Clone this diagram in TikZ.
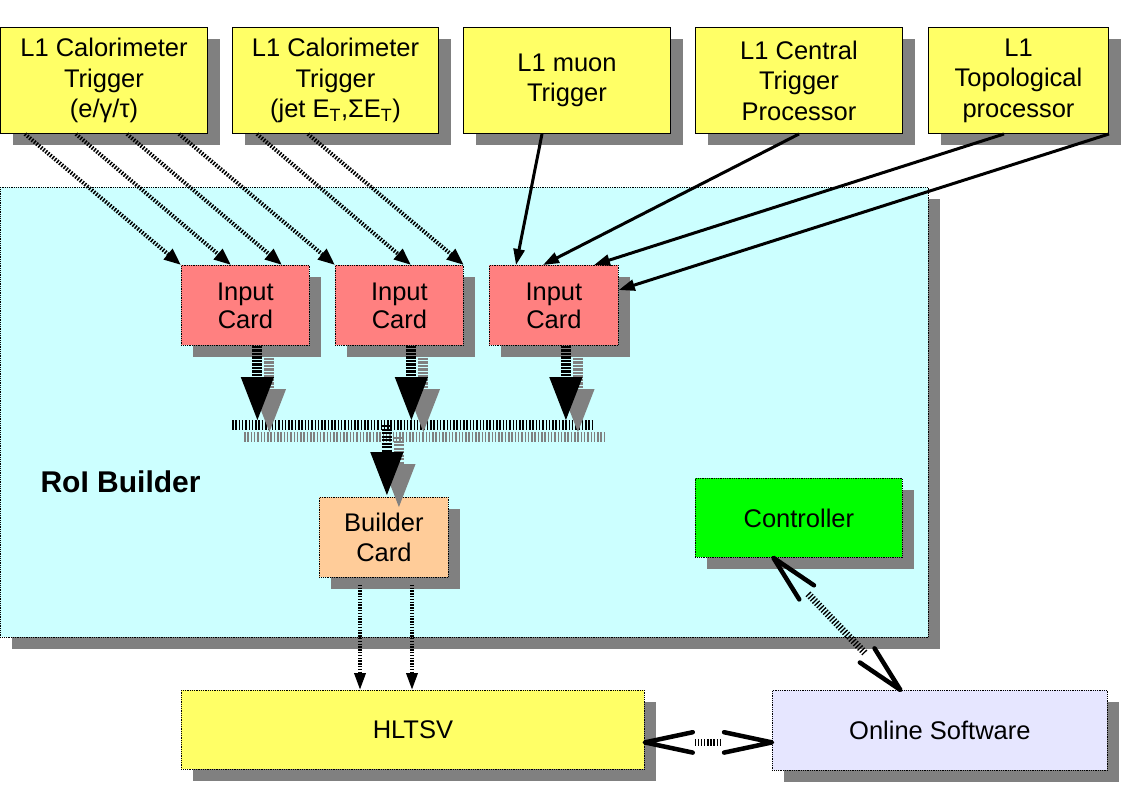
\documentclass[tikz,border=0pt]{standalone}
\usepackage{fontspec}
\setmainfont{Liberation Sans}
\usetikzlibrary{arrows.meta,shadows,calc}
\definecolor{yel}{HTML}{FFFF66}
\definecolor{cyanbg}{HTML}{CCFFFF}
\definecolor{cardred}{HTML}{FF8080}
\definecolor{bldorange}{HTML}{FFCC99}
\definecolor{ctrlgreen}{HTML}{00FF00}
\definecolor{onlinebg}{HTML}{E6E6FF}
\definecolor{shadowgray}{HTML}{808080}
\begin{document}
\begin{tikzpicture}[x=1pt,y=-1pt,
  shad/.style={drop shadow={shadow xshift=12pt,shadow yshift=-12pt,fill=shadowgray,opacity=1,draw=none}},
  topbox/.style={shad,draw=black,line width=1pt,fill=yel,inner sep=0pt,anchor=north west,
    minimum height=106pt,align=center,font=\fontsize{25.5}{30.5}\selectfont},
  card/.style={shad,draw=black,densely dotted,line width=0.8pt,inner sep=0pt,anchor=north west,
    align=center,font=\fontsize{25.5}{28}\selectfont},
  dotarr/.style={line width=4pt,dash pattern=on 1.5pt off 1.5pt,
    -{Triangle[length=17pt,width=13pt]}},
  dotarrb/.style={line width=3.5pt,dash pattern=on 1.4pt off 1.4pt,
    -{Triangle[length=17pt,width=11pt]}},
  solarr/.style={line width=3pt,-{Triangle[length=16pt,width=11pt]}},
  bigarr/.style={line width=10pt,dash pattern=on 2.2pt off 1.3pt,
    -{Triangle[length=45pt,width=30pt]}},
  busline/.style={line width=10pt,dash pattern=on 1.5pt off 1.8pt},
  openhead/.style={line width=4.5pt,line cap=round,line join=round},
  headshaft/.style={line width=7pt,dash pattern=on 1.3pt off 1.8pt},
]
\useasboundingbox (0,0) rectangle (1123,794);

% RoI Builder region
\node[card,fill=cyanbg,minimum width=928pt,minimum height=450pt] (roi) at (0,187) {};
\node[anchor=base west,font=\fontsize{30}{36}\selectfont\bfseries] (roilabel) at (37,492) {RoI Builder};

% top boxes
\node[topbox,minimum width=207pt] (t1) at (0,27) {L1 Calorimeter\\Trigger\\(e/γ/τ)};
\node[topbox,minimum width=206pt] (t2) at (232,27) {L1 Calorimeter\\Trigger\\(jet E\textsubscript{T},ΣE\textsubscript{T})};
\node[topbox,minimum width=207pt] (t3) at (463,27) {L1 muon\\Trigger};
\node[topbox,minimum width=207pt] (t4) at (695,27) {L1 Central\\Trigger\\Processor};
\node[topbox,minimum width=180pt] (t5) at (928,27) {L1\\Topological\\processor};

% cards
\node[card,fill=cardred,minimum width=128pt,minimum height=80pt] (ic1) at (181,265) {Input\\Card};
\node[card,fill=cardred,minimum width=128pt,minimum height=80pt] (ic2) at (335,265) {Input\\Card};
\node[card,fill=cardred,minimum width=129pt,minimum height=80pt] (ic3) at (489,265) {Input\\Card};
\node[card,fill=bldorange,minimum width=129pt,minimum height=80pt,font=\fontsize{25.5}{30}\selectfont] (bld) at (319,497) {Builder\\Card};
\node[card,fill=ctrlgreen,minimum width=207pt,minimum height=79pt] (ctrl) at (695,478) {Controller};
\node[card,fill=yel,minimum width=463pt,minimum height=79pt] (hltsv) at (181,690) {HLTSV};
\node[card,fill=onlinebg,minimum width=335pt,minimum height=80pt] (online) at (772,690) {Online Software};

% dotted arrows from calorimeter triggers
\draw[dotarr] ([xshift=25pt]t1.south west) -- (ic1.north west);
\draw[dotarr] ([xshift=76pt]t1.south west) -- ([xshift=50pt]ic1.north west);
\draw[dotarr] ([xshift=127pt]t1.south west) -- ([xshift=101pt]ic1.north west);
\draw[dotarr] ([xshift=179pt]t1.south west) -- (ic2.north west);
\draw[dotarr] ([xshift=25pt]t2.south west) -- ([xshift=76pt]ic2.north west);
\draw[dotarr] ([xshift=76pt]t2.south west) -- (ic2.north east);

% solid arrows
\draw[solarr] ([xshift=-25pt]t3.south) -- ([xshift=27pt]ic3.north west);
\draw[solarr] (t4.south) -- ([xshift=54pt]ic3.north west);
\draw[solarr] ([xshift=76pt]t5.south west) -- ([xshift=105pt]ic3.north west);
\draw[solarr] (t5.south east) -- ([yshift=-25pt]ic3.north east);

% bus
\coordinate (busL) at (232,425);
\coordinate (busR) at (592,425);
\draw[busline,shadowgray] ($(busL)+(12,12)$) -- ($(busR)+(12,12)$);
\draw[busline] (busL) -- (busR);

% card -> bus arrows
\foreach \c in {ic1,ic2,ic3}{
  \draw[bigarr,shadowgray] ($(\c.south)+(24,12)$) -- ($(\c.south |- busL)+(24,9)$);
  \draw[bigarr] ($(\c.south)+(12,0)$) -- ($(\c.south |- busL)+(12,-3)$);
}
% bus -> builder
\draw[bigarr,shadowgray] ($(bld.north |- busL)+(15,12)$) -- ($(bld.north)+(15,12)$);
\draw[bigarr] ($(bld.north |- busL)+(3,0)$) -- ($(bld.north)+(3,0)$);

% builder -> HLTSV
\coordinate (b1) at ($(bld.south west)+(41,7)$);
\coordinate (b2) at ($(bld.south west)+(93,7)$);
\draw[dotarrb] (b1) -- (b1 |- hltsv.north);
\draw[dotarrb] (b2) -- (b2 |- hltsv.north);

% HLTSV <-> Online Software
\coordinate (hA) at ([yshift=-12.5pt]hltsv.east);
\coordinate (oA) at ([yshift=-12pt]online.west);
\draw[headshaft] ($(hA)!50pt!(oA)$) -- ($(oA)!50pt!(hA)$);
\draw[openhead] ($(hA)!49pt!12:(oA)$) -- (hA) -- ($(hA)!49pt!-12:(oA)$);
\draw[openhead] ($(oA)!49pt!12:(hA)$) -- (oA) -- ($(oA)!49pt!-12:(hA)$);

% Controller <-> Online Software
\coordinate (cA) at ([xshift=-25.5pt]ctrl.south);
\coordinate (oB) at ([xshift=-39.5pt]online.north);
\draw[headshaft] ($(cA)!50pt!(oB)$) -- ($(oB)!50pt!(cA)$);
\draw[openhead] ($(cA)!49pt!12:(oB)$) -- (cA) -- ($(cA)!49pt!-12:(oB)$);
\draw[openhead] ($(oB)!49pt!12:(cA)$) -- (oB) -- ($(oB)!49pt!-12:(cA)$);
\end{tikzpicture}
\end{document}
